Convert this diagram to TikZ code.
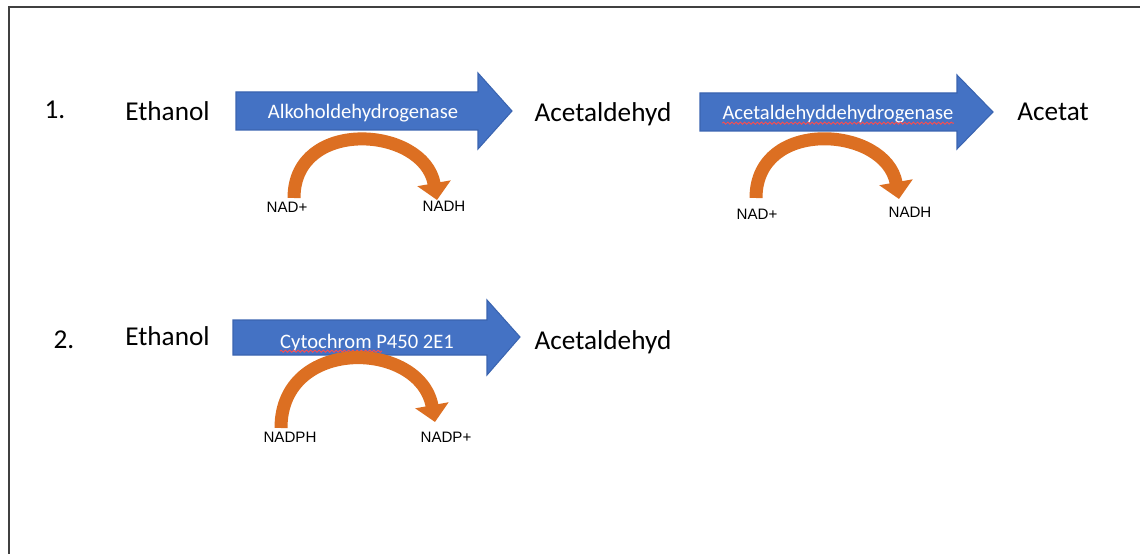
\documentclass[tikz,border=0pt]{standalone}
\usepackage{fontspec}
\setmainfont{Carlito}
\newfontfamily\labelfont{Liberation Sans}
\usetikzlibrary{arrows.meta, decorations.pathmorphing}

\definecolor{enzblue}{HTML}{4472C4}
\definecolor{enzedge}{HTML}{3A64B0}
\definecolor{cofacorange}{HTML}{DC6F22}
\definecolor{framegray}{HTML}{404040}

\tikzset{
	compound/.style={font=\fontsize{15.5}{18}\selectfont, inner sep=0pt, anchor=base},
	enzyme/.style={font=\fontsize{11.7}{14}\selectfont, text=white, inner sep=0pt, anchor=base},
	cofactor/.style={font=\labelfont\fontsize{8.6}{10}\selectfont, inner sep=0pt},
	bigarrow/.style={fill=enzblue, draw=enzedge, line width=0.6pt},
	turnover/.style={draw=cofacorange, line width=0.26cm, -{Triangle[width=0.66cm,length=0.34cm]}},
	spell/.style={draw=red!70, line width=0.5pt, decorate, decoration={snake, amplitude=0.6pt, segment length=2.4pt}}
}

\begin{document}
\begin{tikzpicture}[x=0.02cm, y=-0.02cm]
	\useasboundingbox (0,0) rectangle (1140,554);
	\draw[color=framegray, line width=1.1pt] (9,554) -- (9,7) -- (1140,7);

	% row 1
	\node[compound] (num1) at (55,119) {1.};
	\node[compound] (eth1) at (167.5,121) {Ethanol};
	\node[compound] (acal1) at (603,122) {Acetaldehyd};
	\node[compound] (acet1) at (1053,121) {Acetat};

	\fill[bigarrow] (236,92) -- (478,92) -- (478,73) -- (512,111) -- (478,149) -- (478,130) -- (236,130) -- cycle;
	\node[enzyme] (enz1) at (363,119) {Alkoholdehydrogenase};
	\fill[bigarrow] (700,93) -- (957,93) -- (957,75) -- (993,112) -- (957,149) -- (957,131) -- (700,131) -- cycle;
	\node[enzyme] (enz2) at (838,120) {Acetaldehyddehydrogenase};
	\draw[spell] ([yshift=-1.8pt]enz2.base west) -- ([yshift=-1.8pt]enz2.base east);

	\node[cofactor] (nad1) at (287,207) {NAD+};
	\node[cofactor] (nadh1) at (444,206) {NADH};
	\node[cofactor] (nad2) at (757,214) {NAD+};
	\node[cofactor] (nadh2) at (910,212) {NADH};
	\coordinate (s1) at (294,198);
	\coordinate (t1) at (437,200);
	\coordinate (s2) at (756,198);
	\coordinate (t2) at (899,199);
	\draw[turnover] (s1) .. controls (294,117) and (424,126) .. (t1);
	\draw[turnover] (s2) .. controls (756,117) and (886,126) .. (t2);

	% row 2
	\node[compound] (num2) at (64,348) {2.};
	\node[compound] (eth2) at (167.5,345) {Ethanol};
	\node[compound] (acal2) at (603,349) {Acetaldehyd};

	\fill[bigarrow] (233,320) -- (487,320) -- (487,300) -- (520,337) -- (487,375) -- (487,355) -- (233,355) -- cycle;
	\node[enzyme] (enz3) at (367,348) {Cytochrom P450 2E1};
	\draw[spell] ([yshift=-1.8pt]enz3.base west) -- ++(102,0);

	\node[cofactor] (nadph) at (290,437) {NADPH};
	\node[cofactor] (nadp) at (446,437) {NADP+};
	\coordinate (s3) at (281,428);
	\coordinate (t3) at (435,422);
	\draw[turnover] (s3) .. controls (281,336) and (420,340) .. (t3);
\end{tikzpicture}
\end{document}
